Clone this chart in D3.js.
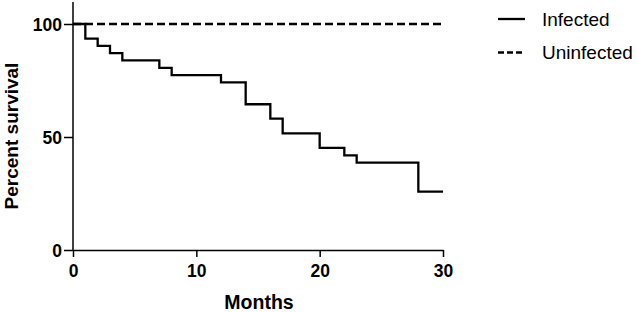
<!DOCTYPE html>
<meta charset="utf-8">
<script src="https://d3js.org/d3.v7.min.js"></script>
<style>
  body { margin: 0; background: #fff; }
  text { font-family: "Liberation Sans", Arial, sans-serif; }
</style>
<div id="chart"></div>
<script>

// Kaplan-Meier steps
var infectedMonths   = [0, 1, 2, 3, 4, 7, 8, 12, 14, 16, 17, 20, 22, 23, 28, 30];
var infectedSurvival = [100, 93.5, 90.3, 87.1, 83.9, 80.6, 77.4, 74.2, 64.5, 58.1, 51.6, 45.2, 41.9, 38.7, 25.8, 25.8];

var uninfectedMonths   = [0, 30];
var uninfectedSurvival = [100, 100];

var xTicks = [0, 10, 20, 30];
var yTicks = [0, 50, 100];

var seriesNames = ["Infected", "Uninfected"];

var width = 637, height = 312;
var margin = {left: 73, right: 194, top: 24, bottom: 62};

var svg = d3.select("#chart").append("svg")
  .attr("width", width)
  .attr("height", height);

var x = d3.scaleLinear().domain([0, 30]).range([margin.left, width - margin.right]);
var y = d3.scaleLinear().domain([0, 100]).range([height - margin.bottom, margin.top]);

// y axis
var yAxis = svg.append("g")
  .attr("transform", "translate(" + margin.left + ",0)")
  .call(d3.axisLeft(y).tickValues(yTicks).tickSize(9).tickPadding(2).tickSizeOuter(0));
yAxis.select(".domain").remove();
yAxis.append("line")
  .attr("x1", 0).attr("x2", 0)
  .attr("y1", y(0)).attr("y2", 2)
  .attr("stroke", "#000").attr("stroke-width", 1.5);

// x axis
var xAxis = svg.append("g")
  .attr("transform", "translate(0," + y(0) + ")")
  .call(d3.axisBottom(x).tickValues(xTicks).tickSize(7).tickPadding(8).tickSizeOuter(0));

[xAxis, yAxis].forEach(function(g) {
  g.selectAll("line").attr("stroke", "#000").attr("stroke-width", 1.5);
  g.select(".domain").attr("stroke", "#000").attr("stroke-width", 1.5);
  g.selectAll(".tick text")
    .attr("fill", "#000")
    .style("font-size", "17.5px")
    .style("font-weight", "bold");
});
yAxis.selectAll(".tick text").attr("dy", "0.36em");

// axis titles
svg.append("text")
  .attr("x", (x(0) + x(30)) / 2 + 1)
  .attr("y", 309)
  .attr("text-anchor", "middle")
  .style("font-size", "19.5px")
  .style("font-weight", "bold")
  .text("Months");

svg.append("text")
  .attr("transform", "translate(17.5,136) rotate(-90)")
  .attr("text-anchor", "middle")
  .style("font-size", "19px")
  .style("font-weight", "bold")
  .text("Percent survival");

// curves
var line = d3.line()
  .x(function(d) { return x(d[0]); })
  .y(function(d) { return y(d[1]); })
  .curve(d3.curveStepAfter);

var uninfected = d3.zip(uninfectedMonths, uninfectedSurvival);
var infected = d3.zip(infectedMonths, infectedSurvival);

svg.append("path")
  .datum(uninfected)
  .attr("d", line)
  .attr("fill", "none")
  .attr("stroke", "#000")
  .attr("stroke-width", 2.3)
  .attr("stroke-dasharray", "8,4");

svg.append("path")
  .datum(infected)
  .attr("d", line)
  .attr("fill", "none")
  .attr("stroke", "#000")
  .attr("stroke-width", 2.3);

// legend
var legend = svg.append("g").attr("transform", "translate(498,19)");
seriesNames.forEach(function(name, i) {
  var row = legend.append("g").attr("transform", "translate(0," + (i * 33.5) + ")");
  row.append("line")
    .attr("x1", 0).attr("x2", 27)
    .attr("stroke", "#000")
    .attr("stroke-width", 2.3)
    .attr("stroke-dasharray", i == 1 ? "6,3" : null);
  row.append("text")
    .attr("x", 44)
    .attr("dy", "0.36em")
    .style("font-size", "19px")
    .text(name);
});

</script>
